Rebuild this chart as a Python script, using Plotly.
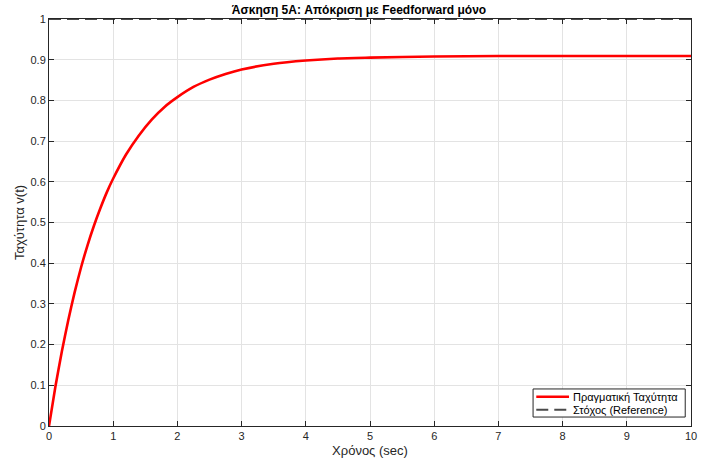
import plotly.graph_objects as go

# Time samples (sec) and velocity values
time_s = [0, 0.1, 0.2, 0.3, 0.4, 0.5, 0.6, 0.7, 0.8, 0.9, 1.0, 1.2, 1.4, 1.6, 1.8,
          2.0, 2.25, 2.5, 2.75, 3.0, 3.5, 4.0, 4.5, 5.0, 6.0, 7.0, 8.0, 9.0, 10.0]
velocity = [0.0, 0.097, 0.183, 0.26, 0.329, 0.39, 0.444, 0.492, 0.535, 0.574, 0.608,
            0.667, 0.714, 0.753, 0.784, 0.808, 0.833, 0.851, 0.865, 0.876, 0.890,
            0.898, 0.903, 0.905, 0.908, 0.909, 0.909, 0.909, 0.909]
ref_time = [0, 10]
ref_value = [1, 1]

x_ticks = [0, 1, 2, 3, 4, 5, 6, 7, 8, 9, 10]
y_ticks = [0, 0.1, 0.2, 0.3, 0.4, 0.5, 0.6, 0.7, 0.8, 0.9, 1]
y_tick_text = ["0", "0.1", "0.2", "0.3", "0.4", "0.5", "0.6", "0.7", "0.8", "0.9", "1"]

title_text = "Άσκηση 5A: Απόκριση με Feedforward μόνο"
x_title = "Χρόνος (sec)"
y_title = "Ταχύτητα v(t)"
name_actual = "Πραγματική Ταχύτητα"
name_ref = "Στόχος (Reference)"

FONT = "Liberation Sans, Arial, Helvetica, sans-serif"
AXC = "#262626"
RED = "#ff0000"
REFC = "#4a4a4a"
REF_DASH = "12px,6px"

fig = go.Figure()
fig.add_trace(go.Scatter(x=time_s, y=velocity, mode="lines", name=name_actual,
                         line=dict(color=RED, width=2.6, shape="spline", smoothing=0.6)))
fig.add_trace(go.Scatter(x=ref_time, y=ref_value, mode="lines", name=name_ref,
                         line=dict(color=REFC, width=2, dash=REF_DASH)))

axis_common = dict(showline=True, linecolor=AXC, linewidth=1, mirror="ticks",
                   ticks="inside", ticklen=5, tickcolor=AXC, tickwidth=1,
                   showgrid=True, gridcolor="#e3e3e3", gridwidth=1, zeroline=False,
                   tickfont=dict(family=FONT, size=11, color=AXC))

fig.update_xaxes(range=[0, 10], tickvals=x_ticks,
                 title=dict(text=x_title, font=dict(family=FONT, size=13, color=AXC), standoff=4),
                 **axis_common)
fig.update_yaxes(range=[0, 1], tickvals=y_ticks, ticktext=y_tick_text,
                 title=dict(text=y_title, font=dict(family=FONT, size=13, color=AXC), standoff=2),
                 **axis_common)

# Compact MATLAB-style legend box (bottom right, inside axes)
bx0, bx1, by0, by1 = 0.754, 0.991, 0.022, 0.091
rows = [(0.072, name_actual, RED, 2.6, "solid"), (0.040, name_ref, REFC, 2, REF_DASH)]
shapes = [dict(type="rect", xref="paper", yref="paper", x0=bx0, x1=bx1, y0=by0, y1=by1,
               line=dict(color=AXC, width=1), fillcolor="white", layer="above")]
annotations = []
for ry, label, col, w, dsh in rows:
    shapes.append(dict(type="line", xref="paper", yref="paper", x0=0.759, x1=0.81,
                       y0=ry, y1=ry, line=dict(color=col, width=w, dash=dsh), layer="above"))
    annotations.append(dict(xref="paper", yref="paper", x=0.813, y=ry, xanchor="left",
                            yanchor="middle", text=label, showarrow=False,
                            font=dict(family=FONT, size=11, color="#000000")))

fig.update_layout(
    width=718, height=466,
    margin=dict(l=49, r=27, t=19, b=40),
    paper_bgcolor="white", plot_bgcolor="white",
    title=dict(text="<b>" + title_text + "</b>", x=0.5, xanchor="center",
               y=1 - 10 / 466, yanchor="middle",
               font=dict(family=FONT, size=12, color="#000000")),
    showlegend=False,
    shapes=shapes,
    annotations=annotations,
)

fig.write_html("out.html")
